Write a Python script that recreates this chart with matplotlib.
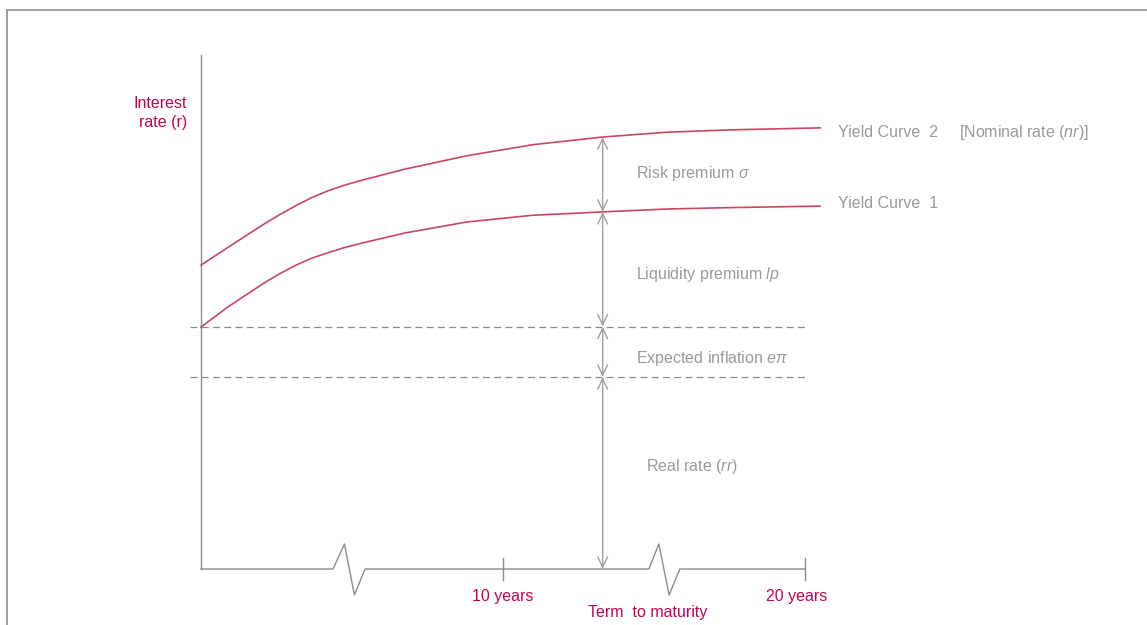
import matplotlib.pyplot as plt
import numpy as np
from matplotlib.lines import Line2D

plt.rcParams['font.family'] = ['Liberation Sans', 'DejaVu Sans']
plt.rcParams['mathtext.fontset'] = 'custom'
plt.rcParams['mathtext.rm'] = 'Liberation Sans'
plt.rcParams['mathtext.it'] = 'Liberation Sans:italic'

# term in years, rate in % (schematic)
years_c1 = [0.0, 0.89, 2.02, 2.57, 3.11, 3.64, 4.21, 4.77, 5.33, 6.75,
            8.81, 10.99, 13.31, 15.43, 17.62, 20.5]
rate_c1 = [5.04, 5.46, 5.93, 6.14, 6.32, 6.47, 6.59, 6.70, 6.79, 7.00,
           7.23, 7.37, 7.44, 7.50, 7.53, 7.56]
years_c2 = [0.0, 0.89, 2.02, 2.57, 3.11, 3.64, 4.21, 4.77, 5.33, 6.75,
            8.81, 10.99, 13.31, 15.43, 17.62, 20.5]
rate_c2 = [6.33, 6.70, 7.16, 7.37, 7.56, 7.73, 7.88, 8.00, 8.10, 8.33,
           8.61, 8.84, 9.00, 9.10, 9.15, 9.19]

real_rate = 4.0
expected_inflation = 1.05
arrow_term = 13.3
tick_years = [10, 20]
tick_labels = ['10 years', '20 years']

GRAY = '#8c8c8c'
TXT = '#9a9a9a'
RED = '#c8004e'
CURVE = '#cc4563'
FS = 11.5

# pixel layout -> data units
X0, PX_YR = 201, 30.2
Y0, PX_RATE = 569, 48.0


def px(x, y):
    return (x - X0) / PX_YR, (Y0 - y) / PX_RATE


fig = plt.figure(figsize=(11.47, 6.25), dpi=100)
ax = fig.add_axes([0, 0, 1, 1])
ax.set_xlim(-X0 / PX_YR, (1147 - X0) / PX_YR)
ax.set_ylim(-(625 - Y0) / PX_RATE, Y0 / PX_RATE)
ax.axis('off')

# outer frame (top and left edges)
fig.add_artist(Line2D([7 / 1147, 1], [1 - 9.5 / 625] * 2, color='#9a9a9a', lw=1.3))
fig.add_artist(Line2D([7 / 1147] * 2, [0, 1 - 9.5 / 625], color='#9a9a9a', lw=1.3))

# y axis
ytop = px(0, 55)[1]
ax.plot([0, 0], [0, ytop], color=GRAY, lw=1.0)

# x axis with two breaks
zig = 0.52
b1 = [4.37, 4.75, 5.08, 5.43]
b2 = [14.83, 15.16, 15.5, 15.86]
xs = [0, b1[0], b1[1], b1[2], b1[3], b2[0], b2[1], b2[2], b2[3], tick_years[1]]
ys = [0, 0, zig, -zig - 0.02, 0, 0, zig, -zig - 0.02, 0, 0]
ax.plot(xs, ys, color=GRAY, lw=1.0)
for t in tick_years:
    ax.plot([t, t], [-0.23, 0.23], color=GRAY, lw=1.0)
ax.text(tick_years[0], px(0, 596)[1], tick_labels[0], color=RED, fontsize=FS,
        ha='center', va='center')
ax.text(px(797, 0)[0], px(0, 596)[1], tick_labels[1], color=RED, fontsize=FS,
        ha='center', va='center')
ax.text(*px(648, 612), 'Term  to maturity', color=RED, fontsize=FS,
        ha='center', va='center')
ax.text(*px(187, 113), 'Interest\nrate (r)', color=RED, fontsize=FS,
        ha='right', va='center', linespacing=1.3)

# dashed levels
lvl_real = real_rate
lvl_infl = real_rate + expected_inflation
for lvl in (lvl_real, lvl_infl):
    ax.plot([-0.36, tick_years[1]], [lvl, lvl], color=GRAY, lw=0.9,
            dashes=(5.5, 3.5))

# yield curves
ax.plot(years_c1, rate_c1, color=CURVE, lw=1.2, solid_joinstyle='round')
ax.plot(years_c2, rate_c2, color=CURVE, lw=1.2, solid_joinstyle='round')

# arrows between levels
y_c1 = np.interp(arrow_term, years_c1, rate_c1)
y_c2 = np.interp(arrow_term, years_c2, rate_c2)
levels = [y_c2, y_c1, lvl_infl, lvl_real, 0]
for top, bot in zip(levels[:-1], levels[1:]):
    ax.annotate('', xy=(arrow_term, top), xytext=(arrow_term, bot),
                arrowprops=dict(arrowstyle='<->,head_length=0.75,head_width=0.35',
                                color='#a0a0a0', lw=1.0, shrinkA=0, shrinkB=0))

# labels
ax.text(*px(636, 174), r'Risk premium $\sigma$', color=TXT, fontsize=FS,
        va='center')
ax.text(*px(636, 275), r'Liquidity premium $lp$', color=TXT, fontsize=FS,
        va='center')
ax.text(*px(636, 359), r'Expected inflation $e\pi$', color=TXT, fontsize=FS,
        va='center')
ax.text(*px(646, 467), r'Real rate ($rr$)', color=TXT, fontsize=FS,
        va='center')
ax.text(*px(838, 133), 'Yield Curve  2', color=TXT, fontsize=FS, va='center')
ax.text(*px(959, 133), r'[Nominal rate ($nr$)]', color=TXT, fontsize=FS,
        va='center')
ax.text(*px(838, 204), 'Yield Curve  1', color=TXT, fontsize=FS, va='center')

fig.savefig('out.png', dpi=100)
